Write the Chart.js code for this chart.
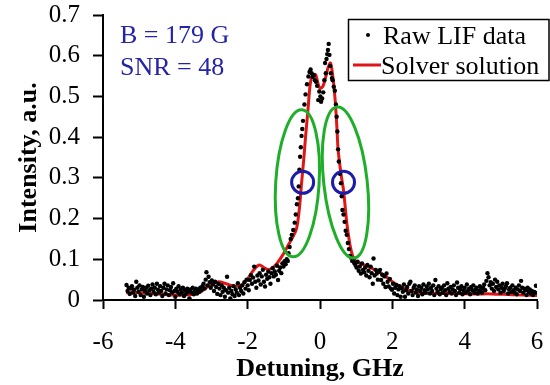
<!DOCTYPE html>
<html>
<head>
<meta charset="utf-8">
<script src="https://cdn.jsdelivr.net/npm/chart.js@4/dist/chart.umd.min.js"></script>
<style>
  body { margin: 0; background: #fff; }
  #wrap { width: 550px; height: 385px; }
</style>
</head>
<body>
<div id="wrap"><canvas id="lifChart" width="550" height="385"></canvas></div>
<script>
// axis ticks
const xTicks = [-6, -4, -2, 0, 2, 4, 6];
const yTicks = [0, 0.1, 0.2, 0.3, 0.4, 0.5, 0.6, 0.7];

// solver solution (red curve)
const solverDetuning = [-5.36, -5.0, -4.7, -4.4, -4.0, -3.6, -3.33, -3.15, -3.0, -2.8, -2.6, -2.36, -2.16, -2.0,
  -1.85, -1.68, -1.52, -1.39, -1.19, -1.0, -0.9, -0.78, -0.65, -0.57, -0.51, -0.45, -0.40, -0.33, -0.27, -0.2,
  -0.12, -0.05, 0.0, 0.08, 0.15, 0.22, 0.29, 0.36, 0.42, 0.47, 0.5, 0.58, 0.65, 0.74, 0.82, 0.88, 0.96, 1.1,
  1.34, 1.6, 1.83, 2.0, 2.22, 2.45, 2.71, 3.2, 3.78, 4.3, 4.75, 5.3, 6.0];
const solverIntensity = [0.018, 0.018, 0.016, 0.014, 0.012, 0.013, 0.018, 0.030, 0.038, 0.045, 0.040, 0.034, 0.037, 0.052,
  0.072, 0.086, 0.078, 0.075, 0.090, 0.115, 0.131, 0.150, 0.175, 0.225, 0.287, 0.345, 0.400, 0.470, 0.530, 0.553,
  0.553, 0.530, 0.520, 0.525, 0.545, 0.570, 0.582, 0.545, 0.490, 0.420, 0.370, 0.310, 0.270, 0.190, 0.140, 0.115, 0.098, 0.090,
  0.082, 0.070, 0.057, 0.045, 0.033, 0.024, 0.018, 0.016, 0.016, 0.015, 0.015, 0.013, 0.011];

// raw LIF data points [detuning GHz, intensity a.u.]
const rawLif = [
  [-5.35,0.037],[-5.32,0.022],[-5.29,0.030],[-5.26,0.015],[-5.23,0.028],[-5.20,0.034],[-5.17,0.018],[-5.14,0.025],
  [-5.11,0.010],[-5.08,0.045],[-5.05,0.030],[-5.02,0.020],[-4.99,0.036],[-4.96,0.012],[-4.93,0.026],[-4.90,0.032],
  [-4.87,0.008],[-4.84,0.022],[-4.81,0.030],[-4.78,0.016],[-4.75,0.035],[-4.72,0.024],[-4.69,0.012],[-4.66,0.028],
  [-4.63,0.038],[-4.60,0.020],[-4.57,0.030],[-4.54,0.014],[-4.51,0.040],[-4.48,0.025],[-4.45,0.018],[-4.42,0.034],
  [-4.39,0.022],[-4.36,0.010],[-4.33,0.030],[-4.30,0.040],[-4.27,0.016],[-4.24,0.026],[-4.21,0.036],[-4.18,0.012],
  [-4.15,0.024],[-4.12,0.032],[-4.09,0.018],[-4.06,0.041],[-4.03,0.022],[-4.00,0.008],[-3.97,0.028],[-3.94,0.020],
  [-3.91,0.034],[-3.88,0.014],[-3.85,0.026],[-3.82,0.018],[-3.79,0.030],[-3.76,0.010],[-3.73,0.024],[-3.70,0.016],
  [-3.67,0.028],[-3.64,0.020],[-3.61,0.004],[-3.58,0.026],[-3.55,0.018],[-3.52,0.030],[-3.49,0.014],[-3.46,0.022],
  [-3.43,0.028],[-3.40,0.016],[-3.37,0.025],[-3.34,0.020],[-3.31,0.030],[-3.28,0.024],[-3.25,0.034],[-3.22,0.040],
  [-3.19,0.028],[-3.16,0.050],[-3.14,0.068],[-3.11,0.036],[-3.08,0.057],[-3.05,0.044],[-3.02,0.030],[-2.99,0.048],
  [-2.96,0.038],[-2.93,0.022],[-2.90,0.045],[-2.87,0.032],[-2.84,0.015],[-2.81,0.040],[-2.78,0.028],[-2.75,0.012],
  [-2.72,0.036],[-2.69,0.020],[-2.66,0.030],[-2.63,0.008],[-2.60,0.024],[-2.57,0.057],[-2.54,0.018],[-2.51,0.030],
  [-2.48,0.004],[-2.45,0.022],[-2.42,0.014],[-2.39,0.034],[-2.36,0.010],[-2.33,0.026],[-2.30,0.018],[-2.27,0.041],
  [-2.24,0.012],[-2.21,0.030],[-2.18,0.022],[-2.15,0.036],[-2.12,0.016],[-2.09,0.044],[-2.06,0.028],[-2.03,0.050],
  [-2.00,0.036],[-1.97,0.024],[-1.94,0.049],[-1.91,0.061],[-1.88,0.040],[-1.85,0.055],[-1.82,0.082],[-1.79,0.045],
  [-1.76,0.030],[-1.73,0.060],[-1.70,0.048],[-1.67,0.066],[-1.64,0.038],[-1.61,0.058],[-1.58,0.074],[-1.55,0.045],
  [-1.52,0.033],[-1.49,0.062],[-1.46,0.052],[-1.43,0.070],[-1.40,0.056],[-1.37,0.040],[-1.34,0.066],[-1.31,0.078],
  [-1.28,0.058],[-1.25,0.070],[-1.22,0.062],[-1.19,0.084],[-1.16,0.049],[-1.13,0.072],[-1.10,0.080],[-1.07,0.066],
  [-1.04,0.090],[-1.01,0.082],[-0.98,0.095],[-0.95,0.088],[-0.92,0.100],[-0.89,0.096],[-0.87,0.115],[-0.84,0.130],
  [-0.81,0.150],[-0.78,0.160],[-0.74,0.172],[-0.70,0.190],[-0.67,0.210],[-0.64,0.235],[-0.61,0.250],[-0.59,0.279],
  [-0.57,0.320],[-0.55,0.352],[-0.53,0.375],[-0.51,0.403],[-0.49,0.420],[-0.47,0.440],[-0.43,0.480],[-0.40,0.505],
  [-0.36,0.530],[-0.32,0.549],[-0.29,0.560],[-0.26,0.566],[-0.23,0.557],[-0.20,0.548],[-0.17,0.552],[-0.14,0.540],
  [-0.11,0.536],[-0.08,0.526],[-0.05,0.491],[-0.02,0.512],[0.01,0.500],[0.03,0.487],[0.06,0.495],[0.09,0.510],
  [0.12,0.540],[0.14,0.582],[0.16,0.557],[0.18,0.592],[0.20,0.604],[0.22,0.614],[0.24,0.629],[0.26,0.602],
  [0.28,0.575],[0.30,0.557],[0.33,0.545],[0.35,0.540],[0.38,0.524],[0.41,0.514],[0.44,0.480],[0.46,0.450],
  [0.48,0.414],[0.50,0.370],[0.52,0.340],[0.55,0.310],[0.58,0.287],[0.60,0.255],[0.62,0.221],[0.65,0.210],
  [0.68,0.192],[0.71,0.170],[0.74,0.160],[0.77,0.140],[0.80,0.125],[0.83,0.108],[0.86,0.104],[0.89,0.096],
  [0.92,0.098],[0.95,0.090],[0.98,0.086],[1.01,0.080],[1.04,0.094],[1.07,0.072],[1.10,0.082],[1.13,0.065],
  [1.16,0.090],[1.19,0.074],[1.22,0.068],[1.25,0.080],[1.28,0.060],[1.31,0.086],[1.34,0.072],[1.37,0.056],
  [1.40,0.082],[1.43,0.066],[1.46,0.040],[1.48,0.102],[1.51,0.060],[1.54,0.074],[1.57,0.065],[1.60,0.050],
  [1.63,0.070],[1.66,0.074],[1.69,0.049],[1.72,0.062],[1.75,0.040],[1.78,0.058],[1.81,0.032],[1.84,0.065],
  [1.87,0.045],[1.90,0.033],[1.93,0.052],[1.96,0.028],[1.99,0.025],[2.02,0.040],[2.05,0.016],[2.08,0.030],
  [2.11,0.037],[2.14,0.012],[2.17,0.026],[2.20,0.034],[2.23,0.008],[2.26,0.029],[2.29,0.020],[2.32,0.038],
  [2.35,0.008],[2.38,0.024],[2.41,0.032],[2.44,0.016],[2.47,0.040],[2.50,0.045],[2.53,0.022],[2.56,0.012],
  [2.59,0.030],[2.62,0.036],[2.65,0.018],[2.68,0.026],[2.71,0.010],[2.74,0.034],[2.77,0.022],[2.80,0.030],
  [2.83,0.014],[2.86,0.038],[2.89,0.024],[2.92,0.018],[2.95,0.033],[2.98,0.026],[3.01,0.040],[3.04,0.016],
  [3.07,0.030],[3.10,0.022],[3.13,0.036],[3.16,0.012],[3.19,0.049],[3.22,0.028],[3.25,0.020],[3.28,0.034],
  [3.31,0.014],[3.34,0.026],[3.37,0.030],[3.40,0.018],[3.43,0.036],[3.46,0.024],[3.49,0.012],[3.52,0.041],
  [3.55,0.028],[3.58,0.020],[3.61,0.032],[3.64,0.016],[3.67,0.026],[3.70,0.036],[3.73,0.022],[3.76,0.012],
  [3.79,0.043],[3.82,0.030],[3.85,0.018],[3.88,0.026],[3.91,0.034],[3.94,0.014],[3.97,0.024],[4.00,0.030],
  [4.03,0.018],[4.06,0.038],[4.09,0.022],[4.12,0.028],[4.15,0.014],[4.18,0.032],[4.21,0.024],[4.24,0.036],
  [4.27,0.018],[4.30,0.026],[4.33,0.030],[4.36,0.016],[4.39,0.022],[4.42,0.034],[4.45,0.026],[4.48,0.018],
  [4.51,0.030],[4.54,0.038],[4.57,0.024],[4.60,0.047],[4.63,0.066],[4.66,0.056],[4.69,0.036],[4.72,0.044],
  [4.75,0.028],[4.78,0.040],[4.81,0.022],[4.84,0.050],[4.87,0.032],[4.90,0.045],[4.93,0.026],[4.96,0.036],
  [4.99,0.018],[5.02,0.030],[5.05,0.040],[5.08,0.022],[5.11,0.028],[5.14,0.034],[5.17,0.041],[5.20,0.016],
  [5.23,0.026],[5.26,0.030],[5.29,0.020],[5.32,0.036],[5.35,0.024],[5.38,0.018],[5.41,0.030],[5.44,0.014],
  [5.47,0.026],[5.50,0.036],[5.53,0.022],[5.56,0.047],[5.59,0.030],[5.62,0.018],[5.65,0.028],[5.68,0.024],
  [5.71,0.012],[5.74,0.030],[5.77,0.020],[5.80,0.026],[5.83,0.016],[5.86,0.022],[5.89,0.012],[5.92,0.020],
  [5.95,0.018],[5.97,0.035]
];

// hand-drawn marks: green loops (top point, bottom point, half width in GHz) and blue circles
const loopTops = [[-0.50, 0.467], [0.47, 0.474]];
const loopBottoms = [[-0.75, 0.106], [0.94, 0.103]];
const loopHalfWidth = 0.6;
const circleCenters = [[-0.48, 0.289], [0.65, 0.289]];

const labelLines = ['B = 179 G', 'SNR = 48'];
const legendLabels = ['Raw LIF data', 'Solver solution'];

const serif = '"Liberation Serif", "Times New Roman", serif';

const overlayPlugin = {
  id: 'overlay',
  afterDatasetsDraw(chart) {
    const ctx = chart.ctx;
    const xs = chart.scales.x, ys = chart.scales.y;
    ctx.save();
    // green loops
    ctx.strokeStyle = '#1fae2a';
    ctx.lineWidth = 3;
    for (let i = 0; i < loopTops.length; i++) {
      const tx = xs.getPixelForValue(loopTops[i][0]), ty = ys.getPixelForValue(loopTops[i][1]);
      const bx = xs.getPixelForValue(loopBottoms[i][0]), by = ys.getPixelForValue(loopBottoms[i][1]);
      const cx = (tx + bx) / 2, cy = (ty + by) / 2;
      const half = Math.hypot(bx - tx, by - ty) / 2;
      const w = xs.getPixelForValue(loopHalfWidth) - xs.getPixelForValue(0);
      const rot = Math.atan2(-(bx - tx), by - ty);
      ctx.beginPath();
      ctx.ellipse(cx, cy, w, half, rot, 0, Math.PI * 2);
      ctx.stroke();
    }
    // blue circles
    ctx.strokeStyle = '#1c1caa';
    ctx.lineWidth = 3;
    circleCenters.forEach(c => {
      ctx.beginPath();
      ctx.arc(xs.getPixelForValue(c[0]), ys.getPixelForValue(c[1]), 11, 0, Math.PI * 2);
      ctx.stroke();
    });
    ctx.restore();
  },
  afterDraw(chart) {
    const ctx = chart.ctx;
    ctx.save();
    // text in upper left
    ctx.fillStyle = '#2424a8';
    ctx.font = '26px ' + serif;
    ctx.textBaseline = 'middle';
    ctx.fillText(labelLines[0], 120, 36);
    ctx.fillText(labelLines[1], 120, 68);

    // legend box
    ctx.strokeStyle = '#000';
    ctx.lineWidth = 1.5;
    ctx.strokeRect(348.5, 19.5, 200.5, 61);
    ctx.fillStyle = '#000';
    ctx.beginPath();
    ctx.arc(368, 35, 2, 0, Math.PI * 2);
    ctx.fill();
    ctx.strokeStyle = '#e01515';
    ctx.lineWidth = 3;
    ctx.beginPath();
    ctx.moveTo(353, 65);
    ctx.lineTo(381, 65);
    ctx.stroke();
    ctx.fillStyle = '#000';
    ctx.font = '26px ' + serif;
    ctx.fillText(legendLabels[0], 383, 37);
    ctx.fillText(legendLabels[1], 381, 67);
    ctx.restore();
  }
};

new Chart(document.getElementById('lifChart'), {
  type: 'scatter',
  data: {
    datasets: [
      {
        label: legendLabels[0],
        data: rawLif.map(p => ({ x: p[0], y: p[1] })),
        pointRadius: 2.2,
        pointBackgroundColor: '#000',
        pointBorderWidth: 0,
        showLine: false,
        order: 1
      },
      {
        label: legendLabels[1],
        data: solverDetuning.map((d, i) => ({ x: d, y: solverIntensity[i] })),
        showLine: true,
        borderColor: '#e01515',
        borderWidth: 3,
        pointRadius: 0,
        tension: 0.3,
        fill: false,
        order: 2
      }
    ]
  },
  options: {
    responsive: false,
    animation: false,
    layout: { padding: { top: 15, right: 13, left: 0, bottom: 0 } },
    plugins: {
      legend: { display: false },
      tooltip: { enabled: false }
    },
    scales: {
      x: {
        type: 'linear',
        min: -6,
        max: 6,
        afterBuildTicks: s => { s.ticks = xTicks.map(v => ({ value: v })); },
        afterFit: s => { s.height = 85; s.paddingLeft = 0; s.paddingRight = 0; },
        grid: { drawOnChartArea: false, tickLength: 9, tickColor: '#000', tickWidth: 2 },
        border: { color: '#000', width: 2 },
        ticks: {
          color: '#000',
          font: { family: serif, size: 25 },
          padding: 18,
          maxRotation: 0,
          callback: v => String(v)
        },
        title: {
          display: true,
          text: 'Detuning, GHz',
          color: '#000',
          font: { family: serif, size: 26, weight: 'bold' },
          padding: { top: 0, bottom: 0 }
        }
      },
      y: {
        type: 'linear',
        min: 0,
        max: 0.7,
        afterBuildTicks: s => { s.ticks = yTicks.map(v => ({ value: v })); },
        afterFit: s => { s.width = 103; s.paddingTop = 0; s.paddingBottom = 0; },
        grid: { drawOnChartArea: false, tickLength: 10, tickColor: '#000', tickWidth: 2 },
        border: { color: '#000', width: 2 },
        ticks: {
          color: '#000',
          font: { family: serif, size: 25 },
          padding: 13,
          callback: v => (v === 0 ? '0' : v.toFixed(1))
        },
        title: {
          display: true,
          text: 'Intensity, a.u.',
          color: '#000',
          font: { family: serif, size: 26, weight: 'bold' },
          padding: { top: 14, bottom: 0 }
        }
      }
    }
  },
  plugins: [overlayPlugin]
});
</script>
</body>
</html>
